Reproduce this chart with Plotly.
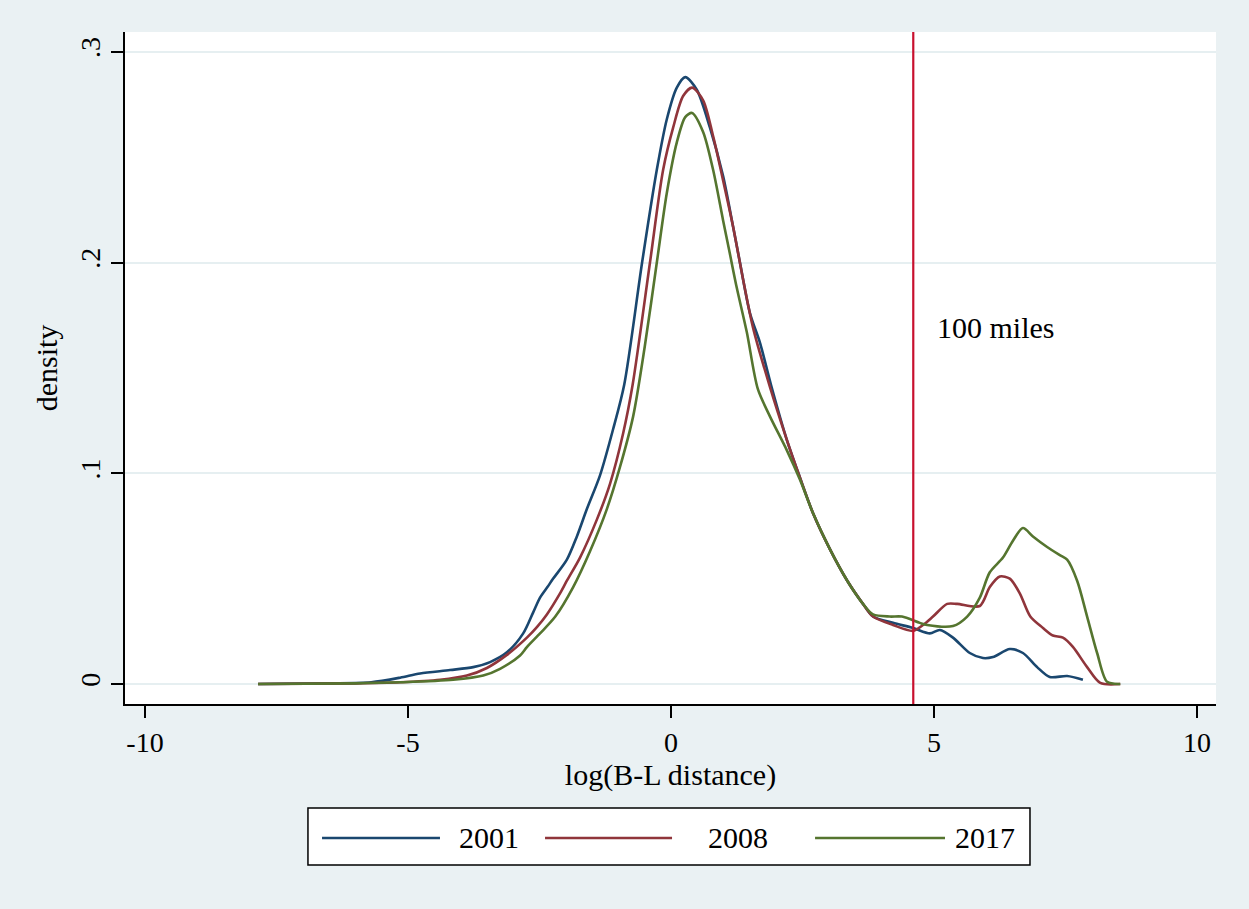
import plotly.graph_objects as go

# ---- data ----
x_2001 = [-7.85, -6.5, -5.7, -5.15, -4.77, -4.2, -3.76, -3.44, -3.12, -2.81, -2.62, -2.49, -2.35, -2.24, -1.98, -1.79,
          -1.60, -1.35, -1.10, -0.89, -0.55, -0.27, -0.08, 0.11, 0.27, 0.49, 0.74, 0.99, 1.18, 1.31, 1.50,
          1.69, 1.90, 2.2, 2.45, 2.70, 3.02, 3.35, 3.65, 3.84, 4.22, 4.60, 4.92, 5.11, 5.36, 5.68, 5.93,
          6.12, 6.44, 6.69, 6.96, 7.2, 7.53, 7.83]
y_2001 = [0.0, 0.0003, 0.0008, 0.003, 0.005, 0.0066, 0.008, 0.0104, 0.015, 0.024, 0.034, 0.041, 0.046, 0.050, 0.059, 0.070,
          0.083, 0.099, 0.121, 0.142, 0.200, 0.244, 0.268, 0.283, 0.288, 0.282, 0.264, 0.241, 0.217, 0.200, 0.176,
          0.162, 0.142, 0.116, 0.098, 0.081, 0.064, 0.049, 0.038, 0.032, 0.029, 0.0266, 0.024, 0.0256, 0.022, 0.0147, 0.0123,
          0.0128, 0.0166, 0.0147, 0.008, 0.0033, 0.0038, 0.002]

x_2008 = [-7.85, -6.0, -5.15, -4.39, -3.88, -3.5, -3.12, -2.74, -2.55, -2.36, -2.11, -1.98, -1.73, -1.41, -1.16,
          -0.91, -0.73, -0.40, -0.15, 0.04, 0.23, 0.40, 0.61, 0.80, 0.99, 1.18, 1.37, 1.56, 1.88, 2.2, 2.45,
          2.70, 3.02, 3.35, 3.65, 3.84, 4.22, 4.60, 4.79, 4.98, 5.25, 5.44, 5.87, 6.06, 6.25, 6.44, 6.63,
          6.83, 7.07, 7.26, 7.45, 7.64, 7.91, 8.16, 8.54]
y_2008 = [0.0, 0.0003, 0.0008, 0.002, 0.004, 0.0076, 0.0138, 0.022, 0.027, 0.033, 0.043, 0.049, 0.060, 0.078, 0.095,
          0.119, 0.142, 0.200, 0.244, 0.264, 0.279, 0.283, 0.277, 0.260, 0.239, 0.217, 0.192, 0.169, 0.141, 0.116, 0.098,
          0.081, 0.064, 0.049, 0.038, 0.032, 0.028, 0.0252, 0.028, 0.032, 0.038, 0.038, 0.037, 0.046, 0.051, 0.050, 0.043,
          0.032, 0.0266, 0.023, 0.022, 0.0176, 0.008, 0.0005, 0.0]

x_2017 = [-7.85, -6.0, -5.15, -4.14, -3.57, -3.25, -2.87, -2.74, -2.49, -2.2, -1.86, -1.54, -1.22, -0.97, -0.72,
          -0.50, -0.27, -0.08, 0.11, 0.27, 0.40, 0.61, 0.80, 0.99, 1.12, 1.25, 1.44, 1.65, 1.88, 2.2, 2.45, 2.70,
          3.02, 3.35, 3.65, 3.84, 4.16, 4.39, 4.73, 4.87, 5.36, 5.63, 5.87, 6.06, 6.31, 6.5, 6.69, 6.88,
          7.15, 7.40, 7.53, 7.72, 7.91, 8.1, 8.29, 8.54]
y_2017 = [0.0, 0.0003, 0.0008, 0.002, 0.004, 0.0072, 0.0135, 0.0175, 0.024, 0.032, 0.046, 0.063, 0.083, 0.103, 0.127,
          0.160, 0.200, 0.233, 0.257, 0.269, 0.271, 0.262, 0.244, 0.220, 0.204, 0.188, 0.167, 0.140, 0.127, 0.111, 0.097, 0.081,
          0.064, 0.049, 0.038, 0.033, 0.032, 0.032, 0.029, 0.028, 0.0275, 0.032, 0.041, 0.053, 0.060, 0.068, 0.074, 0.070,
          0.065, 0.061, 0.059, 0.049, 0.032, 0.0147, 0.001, 0.0]

series_names = ["2001", "2008", "2017"]
series_colors = ["#1a476f", "#90353b", "#55752f"]
x_ticks = [-10, -5, 0, 5, 10]
x_tick_text = ["-10", "-5", "0", "5", "10"]
y_ticks = [0, 0.1, 0.2, 0.3]
y_tick_text = ["0", ".1", ".2", ".3"]
cutoff_x = 4.605  # log(100 miles)
cutoff_label = "100 miles"

FONT = "Liberation Serif, Times New Roman, serif"
BG = "#EAF1F3"

fig = go.Figure()
for name, xs, ys, col in zip(series_names, [x_2001, x_2008, x_2017], [y_2001, y_2008, y_2017], series_colors):
    fig.add_trace(go.Scatter(x=xs, y=ys, mode="lines", name=name,
                             line=dict(color=col, width=2.6, shape="spline", smoothing=0.8),
                             showlegend=False))

# vertical reference line
fig.add_shape(type="line", xref="x", yref="paper", x0=cutoff_x, x1=cutoff_x, y0=0, y1=1,
              line=dict(color="#C8102E", width=2.2))
fig.add_annotation(x=5.02, y=0.169, xref="x", yref="y", text=cutoff_label, showarrow=False,
                   xanchor="left", yanchor="middle", font=dict(family=FONT, size=30, color="black"))

# legend box (drawn in paper coordinates, Stata-style)
fig.add_shape(type="rect", xref="paper", yref="paper", x0=0.1677, x1=0.8295, y0=-0.2396, y1=-0.1548,
              line=dict(color="black", width=1.5), fillcolor="white", layer="above")
leg_lines = [(0.1806, 0.2887), (0.385, 0.5014), (0.6325, 0.7516)]
leg_text_x = [0.3336, 0.5619, 0.7883]
for (a, b), tx, name, col in zip(leg_lines, leg_text_x, series_names, series_colors):
    fig.add_shape(type="line", xref="paper", yref="paper", x0=a, x1=b, y0=-0.1994, y1=-0.1994,
                  line=dict(color=col, width=2.6), layer="above")
    fig.add_annotation(x=tx, y=-0.1994, xref="paper", yref="paper", text=name, showarrow=False,
                       xanchor="center", yanchor="middle", font=dict(family=FONT, size=30, color="black"))

fig.update_layout(
    width=1249, height=909,
    margin=dict(l=125, r=33, t=32, b=205),
    paper_bgcolor=BG, plot_bgcolor="white",
    font=dict(family=FONT, size=28, color="black"),
    showlegend=False,
)
fig.update_xaxes(range=[-10.38, 10.36], tickvals=x_ticks, ticktext=x_tick_text, ticks="outside", ticklen=12,
                 tickwidth=1.5, tickcolor="black", showline=True, linecolor="black", linewidth=2, showgrid=False,
                 zeroline=False, tickfont=dict(size=28),
                 title=dict(text="log(B-L distance)", font=dict(size=30), standoff=2))
fig.update_yaxes(range=[-0.0095, 0.3094], tickvals=y_ticks, ticktext=y_tick_text, tickangle=-90,
                 ticks="outside", ticklen=12, tickwidth=1.5, tickcolor="black", showline=True,
                 linecolor="black", linewidth=2, showgrid=True, gridcolor="#E6EFF1", gridwidth=2,
                 zeroline=False, tickfont=dict(size=28),
                 title=dict(text="density", font=dict(size=30), standoff=8))

fig.write_html("out.html")
